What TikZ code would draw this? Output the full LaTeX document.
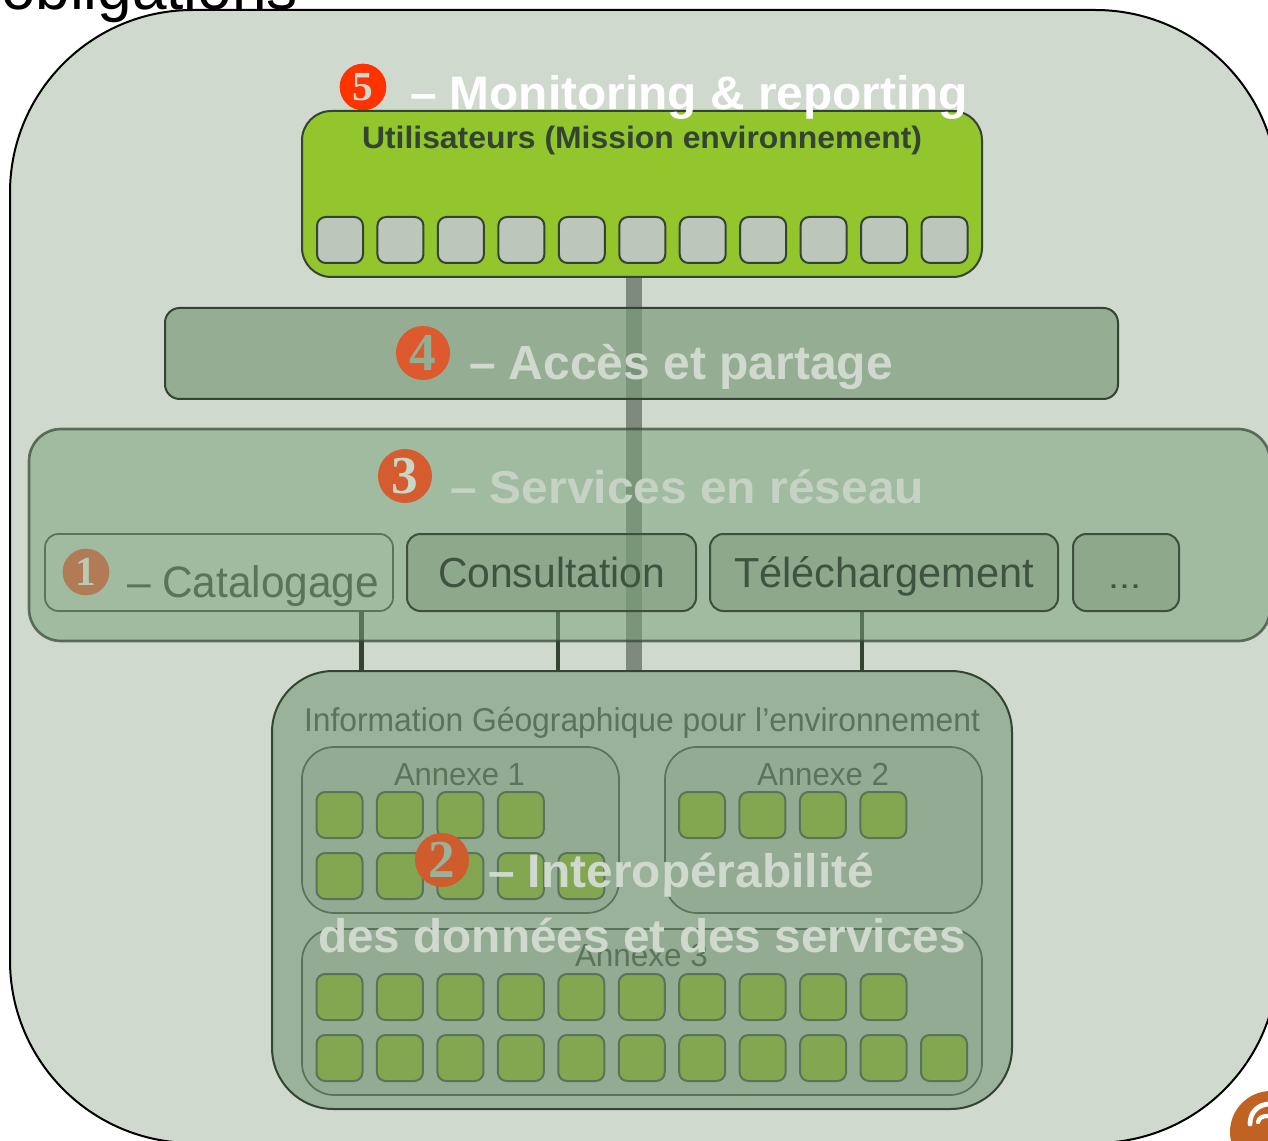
\documentclass[tikz,border=0pt]{standalone}
\usepackage{fontspec}
\usepackage{graphicx}
\setmainfont{Liberation Sans}
\newfontfamily\numfont{Liberation Serif}
\newlength\pxl \setlength\pxl{0.75pt}
\def\pxu{0.75pt}
\definecolor{bgc}{HTML}{CFD9CE}
\definecolor{ink}{HTML}{334433}
\definecolor{soft}{HTML}{5A7459}
\definecolor{graysq}{HTML}{BCC6BB}
\definecolor{sqg}{HTML}{82A750}
\definecolor{logoc}{HTML}{BF6222}
\definecolor{badge5}{HTML}{FF3300}
\definecolor{badge4}{HTML}{DC5A2E}
\definecolor{badge3}{HTML}{D55C2E}
\definecolor{badge2}{HTML}{CF5C2C}
\definecolor{badge1}{HTML}{B07B55}
\definecolor{usergreen}{HTML}{93C62C}
\definecolor{infoc}{HTML}{9AB19A}
\definecolor{annexc}{HTML}{94AB93}
\definecolor{linkc}{HTML}{7F8A7E}
\definecolor{accesc}{HTML}{789978}
\definecolor{servc}{HTML}{79A07A}
\definecolor{svc}{HTML}{7A9777}
\definecolor{txtdark}{HTML}{3F5340}
\definecolor{txtserv}{HTML}{C6D3C4}
\definecolor{dig1}{HTML}{B9C9B3}
\definecolor{dig3}{HTML}{C9D6C6}
\definecolor{dig4}{HTML}{94AE94}
\pgfdeclarelayer{base}
\pgfdeclarelayer{links}
\pgfsetlayers{base,links,main}
\tikzset{
  px/.style={x=0.75pt,y=-0.75pt},
  panel/.style={draw=ink,line width=1.5pt,inner sep=0pt,outer sep=0pt},
  thin panel/.style={draw=ink,line width=1.3pt,inner sep=0pt,outer sep=0pt},
  usersq/.style={panel,fill=#1,rounded corners=6.5pt,minimum width=34.5pt,minimum height=34.5pt},
  datasq/.style={usersq=sqg,draw=soft},
  svcbox/.style={panel,draw=ink!85!svc,fill=svc,fill opacity=.5,rounded corners=10pt},
  annexbox/.style={thin panel,draw=soft,fill=annexc,rounded corners=24pt},
  lab/.style={inner sep=0pt,outer sep=0pt,anchor=base west},
  badge/.style={circle,inner sep=0pt,outer sep=0pt,font={\numfont\bfseries\fontsize{31pt}{31pt}\selectfont}},
  bigbadge/.style={badge,minimum size=40.5pt,font={\numfont\bfseries\fontsize{40pt}{40pt}\selectfont}},
  link/.style={draw=ink,line width=3.2pt},
}
\newcommand\bx[6]{\node[#1,minimum width={(#4-#2)*\pxu},minimum height={(#5-#3)*\pxu}] (#6) at ({(#2+#4)/2},{(#3+#5)/2}) {};}
% \lbl{name}{colour}{x}{baseline}{width px}{size px}{font switch}{text}
\newcommand\lbl[8]{\node[lab,text=#2] (#1) at (#3,#4) {\resizebox{#5\pxl}{\height}{\fontsize{#6\pxl}{#6\pxl}\selectfont#7{}#8}};}
\begin{document}
\begin{tikzpicture}[px]
\useasboundingbox (0,0) rectangle (1268,1141);
\clip (0,0) rectangle (1268,1141);
\begin{pgfonlayer}{base}
\lbl{head}{black}{1}{10}{297}{64}{}{obligations}
\bx{draw=black,line width=1.5pt,fill=bgc,rounded corners=137pt,inner sep=0pt}{10}{10}{1278}{1143}{outer}
\node[circle,fill=logoc,minimum size=61.5pt,inner sep=0pt] (logo) at (1271,1132) {};
\coordinate (m1) at (1250,1124);
\coordinate (m2) at (1258,1122);
\draw[white,line width=3.6pt,line cap=round] (m1) .. controls (1250,1112) and (1258,1105) .. (1268,1104);
\draw[white,line width=3.2pt,line cap=round] (m2) .. controls (1259,1118) and (1262,1116) .. (1268,1116);
\end{pgfonlayer}
% utilisateurs panel
\node[badge,fill=badge5,text=bgc,minimum size=35pt] (b5) at (363,87) {5};
\bx{panel,fill=usergreen,rounded corners=22pt}{302}{111}{982}{277}{users}
\lbl{t5}{white}{410}{110}{558}{47}{\bfseries}{– Monitoring \& reporting}
\lbl{tu}{ink}{362}{149}{560}{31}{\bfseries}{Utilisateurs (Mission environnement)}
\foreach \i in {0,...,10}{
  \node[usersq=graysq] (u\i) at ({340+60.45*\i},240) {};
}
% acces
\bx{panel,fill=accesc,fill opacity=.675,rounded corners=11pt}{165}{308}{1118}{399}{acces}
\node[bigbadge,fill=badge4,text=dig4] (b4) at (423,353) {4};
\lbl{t4}{bgc}{469}{380}{424}{48}{\bfseries}{– Accès et partage}
% services
\bx{line width=2pt,draw=ink,draw opacity=.7,fill=servc,fill opacity=.525,rounded corners=24pt,inner sep=0pt}{29}{429}{1270}{641}{serv}
\bx{thin panel,rounded corners=10pt,draw=soft}{45}{534}{393}{611}{cat}
\bx{svcbox}{407}{534}{696}{611}{cons}
\bx{svcbox}{710}{534}{1058}{611}{tele}
\bx{svcbox}{1073}{534}{1179}{611}{more}
\node[bigbadge,fill=badge3,text=dig3] (b3) at (405,476) {3};
\lbl{t3}{txtserv}{450}{503}{474}{46}{\bfseries}{– Services en réseau}
\node[badge,fill=badge1,text=dig1,minimum size=35pt] (b1) at (86,572) {1};
\lbl{t1}{soft}{127}{597}{252}{44}{}{– Catalogage}
\lbl{t1b}{txtdark}{438}{587}{227}{42}{}{Consultation}
\lbl{t1c}{txtdark}{734}{587}{300}{42}{}{Téléchargement}
\lbl{t1d}{txtdark}{1108}{588}{33}{34}{}{...}
% information panel
\bx{panel,fill=infoc,rounded corners=46pt}{272}{671}{1012}{1109}{info}
\lbl{ti}{soft}{304}{731}{676}{33}{}{Information Géographique pour l’environnement}
\bx{annexbox}{302}{747}{619}{913}{a1}
\bx{annexbox}{665}{747}{982}{913}{a2}
\bx{annexbox}{302}{929}{982}{1095}{a3}
\lbl{ta1}{soft}{394}{785}{131}{32}{}{Annexe 1}
\lbl{ta2}{soft}{757}{785}{132}{32}{}{Annexe 2}
\lbl{ta3}{soft}{575}{966}{133}{32}{}{Annexe 3}
\foreach \i in {0,...,3}{\node[datasq] (p\i) at ({339.5+60.45*\i},815) {};}
\foreach \i in {0,...,4}{\node[datasq] (q\i) at ({339.5+60.45*\i},876) {};}
\foreach \i in {0,...,3}{\node[datasq] (r\i) at ({702+60.45*\i},815) {};}
\foreach \i in {0,...,9}{\node[datasq] (s\i) at ({339.5+60.45*\i},997) {};}
\foreach \i in {0,...,10}{\node[datasq] (v\i) at ({339.5+60.45*\i},1058) {};}
\node[bigbadge,fill=badge2,text=infoc] (b2) at (442,860) {2};
\lbl{t2}{bgc}{488}{887}{386}{47}{\bfseries}{– Interopérabilité}
\lbl{t2b}{bgc}{318}{952}{648}{47}{\bfseries}{des données et des services}
% links behind the translucent panels
\begin{pgfonlayer}{links}
\coordinate (lk) at (634,0);
\coordinate (l1) at (361.5,0);
\coordinate (l2) at (558,0);
\coordinate (l3) at (862,0);
\draw[draw=linkc,line width=12pt] (lk |- users.south) -- (lk |- info.north);
\draw[link] (l1 |- cat.south) -- (l1 |- info.north);
\draw[link] (l2 |- cons.south) -- (l2 |- info.north);
\draw[link] (l3 |- tele.south) -- (l3 |- info.north);
\end{pgfonlayer}
\end{tikzpicture}
\end{document}
